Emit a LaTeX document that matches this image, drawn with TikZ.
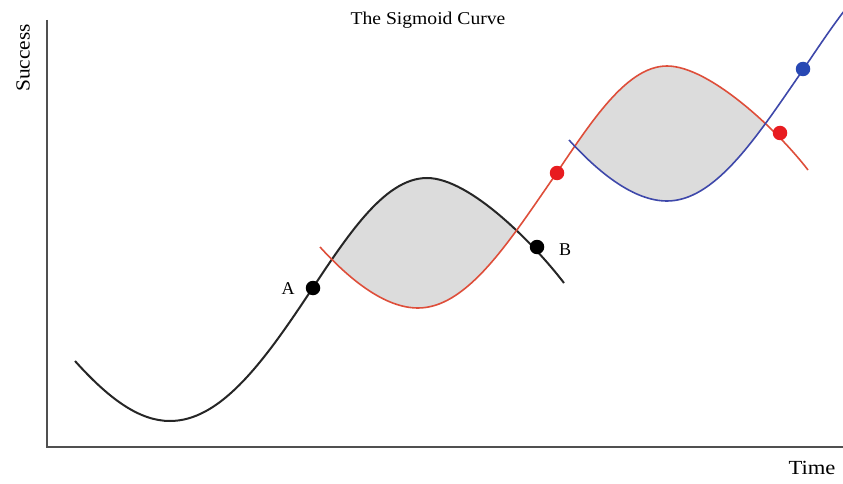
\documentclass[tikz,border=0pt]{standalone}
\usepackage{graphicx}
\usepackage{fontspec}
\setmainfont{Liberation Serif}
\definecolor{curvered}{RGB}{222,78,58}
\definecolor{dotred}{RGB}{232,28,32}
\definecolor{curveblue}{RGB}{62,72,170}
\definecolor{dotblue}{RGB}{40,72,180}
\definecolor{lensgray}{RGB}{220,220,220}
\definecolor{axisgray}{RGB}{80,80,80}
\tikzset{
  axisline/.style={draw=axisgray, line width=2.2pt},
  blackcurve/.style={draw=black!85, line width=2pt},
  redcurve/.style={draw=curvered, line width=1.6pt},
  bluecurve/.style={draw=curveblue, line width=1.6pt},
  dotmark/.style={circle, inner sep=0pt, minimum size=14.5pt},
  lbl/.style={font=\fontsize{18}{20}\selectfont, inner sep=1pt},
  axlbl/.style={font=\fontsize{20}{22}\selectfont, inner sep=1pt}
}
\def\blackpath{(75,361) .. controls (110,400) and (140,421) .. (170,421)
  .. controls (218.6,421) and (260.4,366.4) .. (305,299.5)
  .. controls (345.3,239.1) and (383.1,178) .. (427,178)
  .. controls (470,178) and (535,245) .. (564,283)}
\def\redpath{(320,247) .. controls (350,280) and (385,308) .. (418,308)
  .. controls (464.4,308) and (504.4,248.8) .. (547,187)
  .. controls (586.6,129.6) and (623.8,66) .. (667,66)
  .. controls (710,66) and (779,132) .. (808,170)}
\def\bluepath{(569,140) .. controls (599,173) and (634,201) .. (667,201)
  .. controls (713.4,201) and (753.4,141.8) .. (796,80)
  .. controls (835.6,22.6) and (872.8,-41) .. (916,-41)}
\begin{document}
\begin{tikzpicture}[x=1pt,y=-1pt]
\useasboundingbox (0,0) rectangle (843,484);
% lens 1: between black (above) and red (below)
\begin{scope}
\clip \blackpath -- (564,484) -- (75,484) -- cycle;
\fill[lensgray] \redpath -- (808,-100) -- (320,-100) -- cycle;
\end{scope}
% lens 2: between red (above) and blue (below)
\begin{scope}
\clip \redpath -- (808,484) -- (320,484) -- cycle;
\fill[lensgray] \bluepath -- (916,-100) -- (569,-100) -- cycle;
\end{scope}
% axes
\draw[axisline] (47,20) -- (47,447) -- (843,447);
% curves
\draw[blackcurve] \blackpath;
\draw[redcurve] \redpath;
\draw[bluecurve] \bluepath;
% dots
\node[dotmark, fill=black] (A) at (313,288) {};
\node[dotmark, fill=black] (B) at (537,247) {};
\node[dotmark, fill=dotred] (R1) at (557,173) {};
\node[dotmark, fill=dotred] (R2) at (780,133) {};
\node[dotmark, fill=dotblue] (U1) at (803,69) {};
% labels
\node[lbl] (la) at (288,289) {A};
\node[lbl] (lb) at (565,250) {B};
\node[lbl] (title) at (428,20) {\scalebox{1.09}[1]{The Sigmoid Curve}};
\node[axlbl, rotate=90] (ylab) at (23,58) {\scalebox{1.07}[1]{Success}};
\node[axlbl] (xlab) at (812,468) {\scalebox{1.13}[1]{Time}};
\end{tikzpicture}
\end{document}
